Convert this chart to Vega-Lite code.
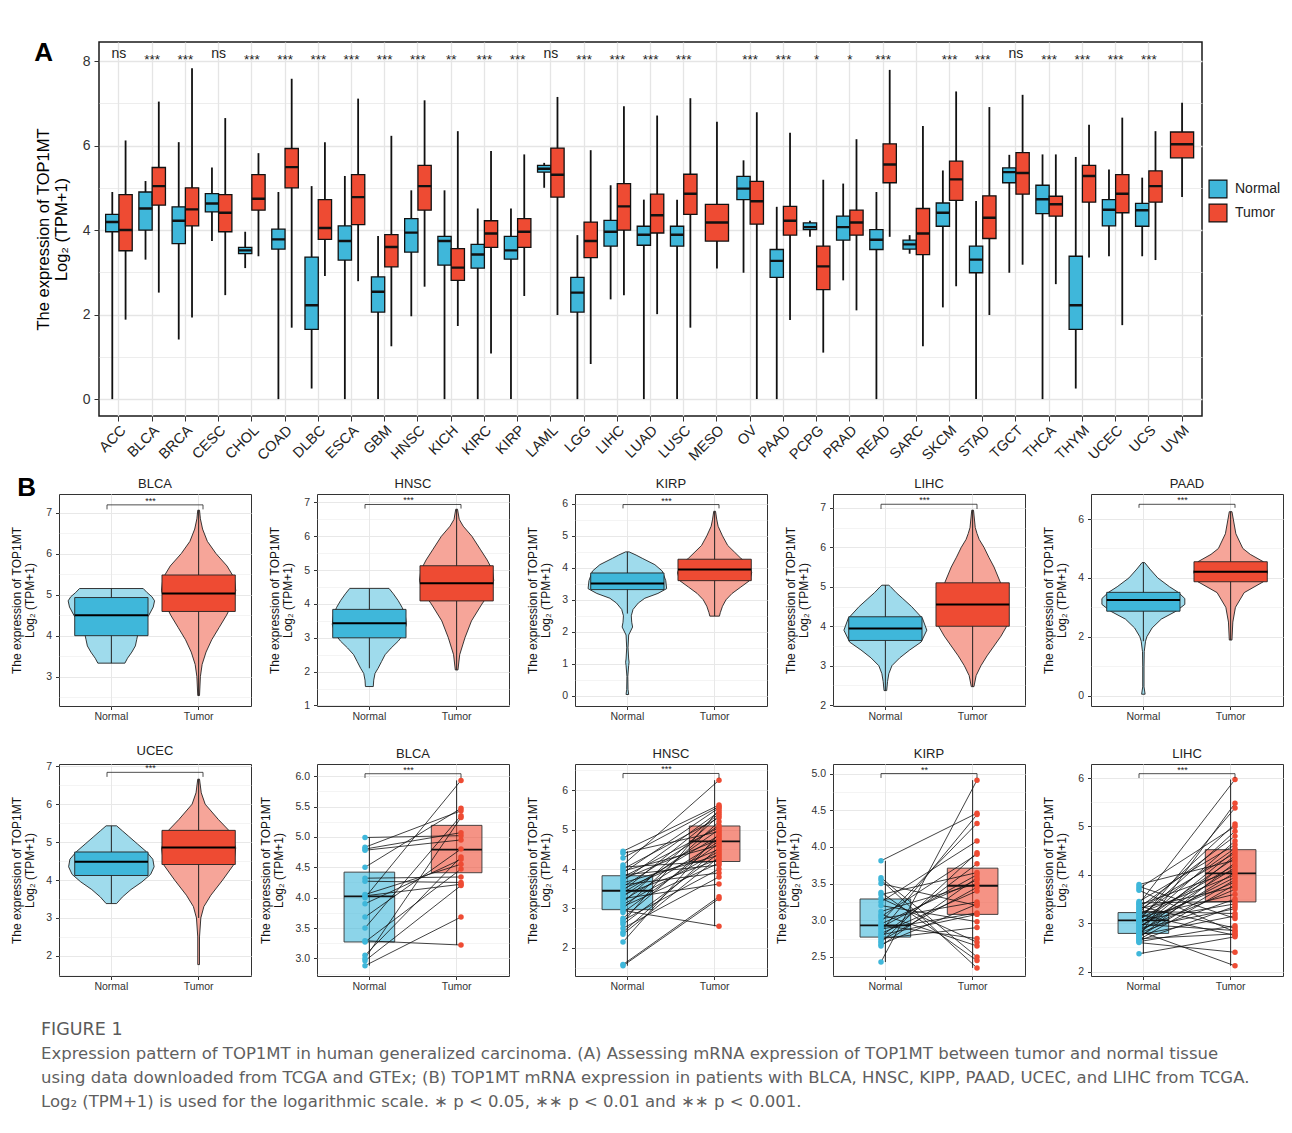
{
"$schema":"https://vega.github.io/schema/vega-lite/v6.json",
"background":"white",
"padding":{"left":10,"top":39,"right":2,"bottom":5},
"autosize":{"type":"pad"},
"config":{
 "font":"Liberation Sans",
 "view":{"stroke":"#333","strokeWidth":1},
 "axis":{"domain":false,"tickColor":"#333","labelColor":"#333","titleColor":"#111","gridColor":"#e8e8e8","titleFontWeight":"normal"},
 "axisY":{"labelFontSize":10.5,"titleFontSize":12,"titleLineHeight":13,"titlePadding":9,"tickSize":3.5,"labelPadding":4},
 "axisX":{"labelFontSize":10.5,"tickSize":3.5,"labelPadding":2},
 "title":{"fontSize":13,"fontWeight":"normal","color":"#222","offset":3}
},
"datasets":{
"A":[
{"c":"ACC","g":"Normal","lo":0,"q1":3.96,"med":4.19,"q3":4.37,"hi":4.9},
{"c":"ACC","g":"Tumor","lo":1.88,"q1":3.51,"med":4.0,"q3":4.84,"hi":6.12},
{"c":"BLCA","g":"Normal","lo":3.3,"q1":4.0,"med":4.51,"q3":4.9,"hi":5.16},
{"c":"BLCA","g":"Tumor","lo":2.52,"q1":4.59,"med":5.04,"q3":5.48,"hi":7.04},
{"c":"BRCA","g":"Normal","lo":1.41,"q1":3.68,"med":4.22,"q3":4.55,"hi":6.08},
{"c":"BRCA","g":"Tumor","lo":1.93,"q1":4.1,"med":4.49,"q3":5.0,"hi":7.83},
{"c":"CESC","g":"Normal","lo":3.74,"q1":4.43,"med":4.63,"q3":4.86,"hi":5.48},
{"c":"CESC","g":"Tumor","lo":2.46,"q1":3.96,"med":4.41,"q3":4.84,"hi":6.65},
{"c":"CHOL","g":"Normal","lo":3.1,"q1":3.44,"med":3.52,"q3":3.59,"hi":3.96},
{"c":"CHOL","g":"Tumor","lo":3.38,"q1":4.47,"med":4.74,"q3":5.31,"hi":5.82},
{"c":"COAD","g":"Normal","lo":0,"q1":3.55,"med":3.78,"q3":4.02,"hi":4.9},
{"c":"COAD","g":"Tumor","lo":1.69,"q1":5.0,"med":5.49,"q3":5.93,"hi":7.58},
{"c":"DLBC","g":"Normal","lo":0.25,"q1":1.65,"med":2.22,"q3":3.36,"hi":5.04},
{"c":"DLBC","g":"Tumor","lo":2.91,"q1":3.78,"med":4.05,"q3":4.72,"hi":6.08},
{"c":"ESCA","g":"Normal","lo":0,"q1":3.29,"med":3.74,"q3":4.1,"hi":5.28},
{"c":"ESCA","g":"Tumor","lo":2.79,"q1":4.13,"med":4.78,"q3":5.31,"hi":7.11},
{"c":"GBM","g":"Normal","lo":0,"q1":2.06,"med":2.54,"q3":2.89,"hi":3.86},
{"c":"GBM","g":"Tumor","lo":1.25,"q1":3.13,"med":3.6,"q3":3.89,"hi":6.23},
{"c":"HNSC","g":"Normal","lo":1.96,"q1":3.48,"med":3.94,"q3":4.27,"hi":4.94},
{"c":"HNSC","g":"Tumor","lo":2.66,"q1":4.47,"med":5.04,"q3":5.53,"hi":7.07},
{"c":"KICH","g":"Normal","lo":0,"q1":3.17,"med":3.74,"q3":3.85,"hi":4.94},
{"c":"KICH","g":"Tumor","lo":1.73,"q1":2.81,"med":3.11,"q3":3.56,"hi":6.34},
{"c":"KIRC","g":"Normal","lo":0,"q1":3.1,"med":3.42,"q3":3.66,"hi":4.51},
{"c":"KIRC","g":"Tumor","lo":1.08,"q1":3.59,"med":3.92,"q3":4.22,"hi":5.87},
{"c":"KIRP","g":"Normal","lo":0,"q1":3.31,"med":3.52,"q3":3.85,"hi":4.51},
{"c":"KIRP","g":"Tumor","lo":2.44,"q1":3.59,"med":3.96,"q3":4.27,"hi":5.79},
{"c":"LAML","g":"Normal","lo":5.0,"q1":5.37,"med":5.45,"q3":5.53,"hi":5.59},
{"c":"LAML","g":"Tumor","lo":1.99,"q1":4.78,"med":5.31,"q3":5.94,"hi":7.15},
{"c":"LGG","g":"Normal","lo":0,"q1":2.06,"med":2.52,"q3":2.88,"hi":3.88},
{"c":"LGG","g":"Tumor","lo":0.83,"q1":3.35,"med":3.74,"q3":4.19,"hi":5.89},
{"c":"LIHC","g":"Normal","lo":2.36,"q1":3.62,"med":3.96,"q3":4.23,"hi":5.06},
{"c":"LIHC","g":"Tumor","lo":2.46,"q1":4.0,"med":4.56,"q3":5.1,"hi":6.93},
{"c":"LUAD","g":"Normal","lo":0,"q1":3.64,"med":3.89,"q3":4.09,"hi":4.72},
{"c":"LUAD","g":"Tumor","lo":2.01,"q1":3.93,"med":4.35,"q3":4.85,"hi":6.71},
{"c":"LUSC","g":"Normal","lo":0,"q1":3.62,"med":3.89,"q3":4.09,"hi":4.72},
{"c":"LUSC","g":"Tumor","lo":1.69,"q1":4.37,"med":4.86,"q3":5.32,"hi":7.12},
{"c":"MESO","g":"Tumor","lo":3.09,"q1":3.74,"med":4.18,"q3":4.61,"hi":6.56},
{"c":"OV","g":"Normal","lo":2.99,"q1":4.72,"med":4.98,"q3":5.27,"hi":5.65},
{"c":"OV","g":"Tumor","lo":0,"q1":4.14,"med":4.68,"q3":5.15,"hi":6.79},
{"c":"PAAD","g":"Normal","lo":0,"q1":2.88,"med":3.27,"q3":3.54,"hi":4.55},
{"c":"PAAD","g":"Tumor","lo":1.87,"q1":3.88,"med":4.22,"q3":4.56,"hi":6.3},
{"c":"PCPG","g":"Normal","lo":3.84,"q1":4.01,"med":4.07,"q3":4.17,"hi":4.22},
{"c":"PCPG","g":"Tumor","lo":1.1,"q1":2.59,"med":3.14,"q3":3.62,"hi":5.19},
{"c":"PRAD","g":"Normal","lo":2.81,"q1":3.76,"med":4.07,"q3":4.33,"hi":5.1},
{"c":"PRAD","g":"Tumor","lo":2.1,"q1":3.88,"med":4.18,"q3":4.47,"hi":6.15},
{"c":"READ","g":"Normal","lo":0,"q1":3.54,"med":3.77,"q3":4.01,"hi":4.9},
{"c":"READ","g":"Tumor","lo":3.84,"q1":5.12,"med":5.55,"q3":6.04,"hi":7.79},
{"c":"SARC","g":"Normal","lo":3.44,"q1":3.55,"med":3.66,"q3":3.76,"hi":3.88},
{"c":"SARC","g":"Tumor","lo":1.25,"q1":3.42,"med":3.92,"q3":4.51,"hi":6.46},
{"c":"SKCM","g":"Normal","lo":2.17,"q1":4.09,"med":4.41,"q3":4.64,"hi":5.41},
{"c":"SKCM","g":"Tumor","lo":2.67,"q1":4.7,"med":5.2,"q3":5.63,"hi":7.28},
{"c":"STAD","g":"Normal","lo":0,"q1":2.99,"med":3.3,"q3":3.62,"hi":4.69},
{"c":"STAD","g":"Tumor","lo":1.99,"q1":3.8,"med":4.29,"q3":4.81,"hi":6.91},
{"c":"TGCT","g":"Normal","lo":2.99,"q1":5.12,"med":5.37,"q3":5.47,"hi":5.78},
{"c":"TGCT","g":"Tumor","lo":3.18,"q1":4.85,"med":5.35,"q3":5.83,"hi":7.2},
{"c":"THCA","g":"Normal","lo":0,"q1":4.39,"med":4.73,"q3":5.06,"hi":5.79},
{"c":"THCA","g":"Tumor","lo":2.72,"q1":4.33,"med":4.61,"q3":4.8,"hi":5.79},
{"c":"THYM","g":"Normal","lo":0.25,"q1":1.65,"med":2.22,"q3":3.38,"hi":5.73},
{"c":"THYM","g":"Tumor","lo":3.35,"q1":4.66,"med":5.28,"q3":5.53,"hi":6.49},
{"c":"UCEC","g":"Normal","lo":3.38,"q1":4.1,"med":4.48,"q3":4.72,"hi":5.43},
{"c":"UCEC","g":"Tumor","lo":1.75,"q1":4.41,"med":4.86,"q3":5.31,"hi":6.66},
{"c":"UCS","g":"Normal","lo":3.38,"q1":4.09,"med":4.47,"q3":4.63,"hi":5.24},
{"c":"UCS","g":"Tumor","lo":3.29,"q1":4.66,"med":5.04,"q3":5.4,"hi":6.34},
{"c":"UVM","g":"Tumor","lo":4.78,"q1":5.71,"med":6.03,"q3":6.32,"hi":7.01}
],
"Asig":[
{"c":"ACC","s":"ns"},{"c":"BLCA","s":"***"},{"c":"BRCA","s":"***"},{"c":"CESC","s":"ns"},{"c":"CHOL","s":"***"},{"c":"COAD","s":"***"},{"c":"DLBC","s":"***"},{"c":"ESCA","s":"***"},{"c":"GBM","s":"***"},{"c":"HNSC","s":"***"},{"c":"KICH","s":"**"},{"c":"KIRC","s":"***"},{"c":"KIRP","s":"***"},{"c":"LAML","s":"ns"},{"c":"LGG","s":"***"},{"c":"LIHC","s":"***"},{"c":"LUAD","s":"***"},{"c":"LUSC","s":"***"},{"c":"OV","s":"***"},{"c":"PAAD","s":"***"},{"c":"PCPG","s":"*"},{"c":"PRAD","s":"*"},{"c":"READ","s":"***"},{"c":"SKCM","s":"***"},{"c":"STAD","s":"***"},{"c":"TGCT","s":"ns"},{"c":"THCA","s":"***"},{"c":"THYM","s":"***"},{"c":"UCEC","s":"***"},{"c":"UCS","s":"***"}
],
"vs":[
{"c":"BLCA","g":"Normal","lo":3.33,"q1":4.0,"med":4.5,"q3":4.93,"hi":5.15},
{"c":"BLCA","g":"Tumor","lo":2.54,"q1":4.59,"med":5.03,"q3":5.48,"hi":7.06},
{"c":"HNSC","g":"Normal","lo":2.1,"q1":3.0,"med":3.43,"q3":3.84,"hi":4.46},
{"c":"HNSC","g":"Tumor","lo":2.05,"q1":4.09,"med":4.61,"q3":5.13,"hi":6.8},
{"c":"KIRP","g":"Normal","lo":2.57,"q1":3.32,"med":3.51,"q3":3.84,"hi":4.5},
{"c":"KIRP","g":"Tumor","lo":2.49,"q1":3.6,"med":3.95,"q3":4.27,"hi":5.77},
{"c":"LIHC","g":"Normal","lo":2.37,"q1":3.64,"med":3.94,"q3":4.24,"hi":5.04},
{"c":"LIHC","g":"Tumor","lo":2.47,"q1":4.0,"med":4.55,"q3":5.1,"hi":6.94},
{"c":"PAAD","g":"Normal","lo":1.85,"q1":2.87,"med":3.25,"q3":3.51,"hi":4.52},
{"c":"PAAD","g":"Tumor","lo":1.89,"q1":3.87,"med":4.21,"q3":4.55,"hi":6.25},
{"c":"UCEC","g":"Normal","lo":3.38,"q1":4.12,"med":4.48,"q3":4.74,"hi":5.43},
{"c":"UCEC","g":"Tumor","lo":3.0,"q1":4.41,"med":4.86,"q3":5.31,"hi":6.66}
],
"vd":[
{"c":"BLCA","g":"Normal","y":3.33,"d":0.31},{"c":"BLCA","g":"Normal","y":3.45,"d":0.37},{"c":"BLCA","g":"Normal","y":3.6,"d":0.47},{"c":"BLCA","g":"Normal","y":3.75,"d":0.55},{"c":"BLCA","g":"Normal","y":3.9,"d":0.58},{"c":"BLCA","g":"Normal","y":4.1,"d":0.62},{"c":"BLCA","g":"Normal","y":4.3,"d":0.72},{"c":"BLCA","g":"Normal","y":4.5,"d":0.86},{"c":"BLCA","g":"Normal","y":4.7,"d":0.96},{"c":"BLCA","g":"Normal","y":4.85,"d":0.99},{"c":"BLCA","g":"Normal","y":4.95,"d":0.93},{"c":"BLCA","g":"Normal","y":5.05,"d":0.82},{"c":"BLCA","g":"Normal","y":5.15,"d":0.73},
{"c":"BLCA","g":"Tumor","y":2.54,"d":0.02},{"c":"BLCA","g":"Tumor","y":3.0,"d":0.04},{"c":"BLCA","g":"Tumor","y":3.3,"d":0.08},{"c":"BLCA","g":"Tumor","y":3.6,"d":0.17},{"c":"BLCA","g":"Tumor","y":3.9,"d":0.3},{"c":"BLCA","g":"Tumor","y":4.2,"d":0.47},{"c":"BLCA","g":"Tumor","y":4.5,"d":0.64},{"c":"BLCA","g":"Tumor","y":4.8,"d":0.78},{"c":"BLCA","g":"Tumor","y":5.1,"d":0.85},{"c":"BLCA","g":"Tumor","y":5.4,"d":0.82},{"c":"BLCA","g":"Tumor","y":5.7,"d":0.65},{"c":"BLCA","g":"Tumor","y":6.0,"d":0.4},{"c":"BLCA","g":"Tumor","y":6.3,"d":0.2},{"c":"BLCA","g":"Tumor","y":6.6,"d":0.09},{"c":"BLCA","g":"Tumor","y":6.85,"d":0.04},{"c":"BLCA","g":"Tumor","y":7.06,"d":0.02},
{"c":"HNSC","g":"Normal","y":1.56,"d":0.09},{"c":"HNSC","g":"Normal","y":1.75,"d":0.1},{"c":"HNSC","g":"Normal","y":1.95,"d":0.13},{"c":"HNSC","g":"Normal","y":2.1,"d":0.2},{"c":"HNSC","g":"Normal","y":2.3,"d":0.28},{"c":"HNSC","g":"Normal","y":2.5,"d":0.36},{"c":"HNSC","g":"Normal","y":2.7,"d":0.5},{"c":"HNSC","g":"Normal","y":2.9,"d":0.66},{"c":"HNSC","g":"Normal","y":3.1,"d":0.78},{"c":"HNSC","g":"Normal","y":3.4,"d":0.85},{"c":"HNSC","g":"Normal","y":3.7,"d":0.82},{"c":"HNSC","g":"Normal","y":3.9,"d":0.75},{"c":"HNSC","g":"Normal","y":4.1,"d":0.66},{"c":"HNSC","g":"Normal","y":4.3,"d":0.55},{"c":"HNSC","g":"Normal","y":4.46,"d":0.45},
{"c":"HNSC","g":"Tumor","y":2.05,"d":0.03},{"c":"HNSC","g":"Tumor","y":2.5,"d":0.07},{"c":"HNSC","g":"Tumor","y":3.0,"d":0.19},{"c":"HNSC","g":"Tumor","y":3.5,"d":0.34},{"c":"HNSC","g":"Tumor","y":4.0,"d":0.58},{"c":"HNSC","g":"Tumor","y":4.4,"d":0.8},{"c":"HNSC","g":"Tumor","y":4.7,"d":0.85},{"c":"HNSC","g":"Tumor","y":5.0,"d":0.82},{"c":"HNSC","g":"Tumor","y":5.3,"d":0.7},{"c":"HNSC","g":"Tumor","y":5.6,"d":0.55},{"c":"HNSC","g":"Tumor","y":6.0,"d":0.35},{"c":"HNSC","g":"Tumor","y":6.3,"d":0.15},{"c":"HNSC","g":"Tumor","y":6.5,"d":0.06},{"c":"HNSC","g":"Tumor","y":6.8,"d":0.02},
{"c":"KIRP","g":"Normal","y":0.04,"d":0.03},{"c":"KIRP","g":"Normal","y":0.2,"d":0.015},{"c":"KIRP","g":"Normal","y":0.6,"d":0.01},{"c":"KIRP","g":"Normal","y":0.95,"d":0.03},{"c":"KIRP","g":"Normal","y":1.05,"d":0.04},{"c":"KIRP","g":"Normal","y":1.15,"d":0.03},{"c":"KIRP","g":"Normal","y":1.5,"d":0.015},{"c":"KIRP","g":"Normal","y":1.9,"d":0.03},{"c":"KIRP","g":"Normal","y":2.15,"d":0.12},{"c":"KIRP","g":"Normal","y":2.3,"d":0.1},{"c":"KIRP","g":"Normal","y":2.5,"d":0.09},{"c":"KIRP","g":"Normal","y":2.7,"d":0.13},{"c":"KIRP","g":"Normal","y":2.9,"d":0.25},{"c":"KIRP","g":"Normal","y":3.05,"d":0.4},{"c":"KIRP","g":"Normal","y":3.2,"d":0.7},{"c":"KIRP","g":"Normal","y":3.35,"d":0.9},{"c":"KIRP","g":"Normal","y":3.6,"d":0.88},{"c":"KIRP","g":"Normal","y":3.9,"d":0.8},{"c":"KIRP","g":"Normal","y":4.1,"d":0.63},{"c":"KIRP","g":"Normal","y":4.3,"d":0.34},{"c":"KIRP","g":"Normal","y":4.4,"d":0.2},{"c":"KIRP","g":"Normal","y":4.5,"d":0.04},
{"c":"KIRP","g":"Tumor","y":2.49,"d":0.11},{"c":"KIRP","g":"Tumor","y":2.6,"d":0.13},{"c":"KIRP","g":"Tumor","y":2.8,"d":0.18},{"c":"KIRP","g":"Tumor","y":3.0,"d":0.26},{"c":"KIRP","g":"Tumor","y":3.2,"d":0.4},{"c":"KIRP","g":"Tumor","y":3.4,"d":0.6},{"c":"KIRP","g":"Tumor","y":3.6,"d":0.8},{"c":"KIRP","g":"Tumor","y":3.85,"d":0.85},{"c":"KIRP","g":"Tumor","y":4.1,"d":0.78},{"c":"KIRP","g":"Tumor","y":4.3,"d":0.6},{"c":"KIRP","g":"Tumor","y":4.5,"d":0.45},{"c":"KIRP","g":"Tumor","y":4.7,"d":0.3},{"c":"KIRP","g":"Tumor","y":5.0,"d":0.18},{"c":"KIRP","g":"Tumor","y":5.3,"d":0.08},{"c":"KIRP","g":"Tumor","y":5.5,"d":0.05},{"c":"KIRP","g":"Tumor","y":5.77,"d":0.02},
{"c":"LIHC","g":"Normal","y":2.37,"d":0.03},{"c":"LIHC","g":"Normal","y":2.6,"d":0.05},{"c":"LIHC","g":"Normal","y":2.8,"d":0.08},{"c":"LIHC","g":"Normal","y":3.0,"d":0.15},{"c":"LIHC","g":"Normal","y":3.2,"d":0.33},{"c":"LIHC","g":"Normal","y":3.4,"d":0.56},{"c":"LIHC","g":"Normal","y":3.6,"d":0.82},{"c":"LIHC","g":"Normal","y":3.9,"d":0.95},{"c":"LIHC","g":"Normal","y":4.2,"d":0.85},{"c":"LIHC","g":"Normal","y":4.5,"d":0.6},{"c":"LIHC","g":"Normal","y":4.7,"d":0.4},{"c":"LIHC","g":"Normal","y":4.85,"d":0.25},{"c":"LIHC","g":"Normal","y":5.0,"d":0.12},{"c":"LIHC","g":"Normal","y":5.04,"d":0.08},
{"c":"LIHC","g":"Tumor","y":2.47,"d":0.03},{"c":"LIHC","g":"Tumor","y":2.75,"d":0.08},{"c":"LIHC","g":"Tumor","y":3.0,"d":0.19},{"c":"LIHC","g":"Tumor","y":3.25,"d":0.33},{"c":"LIHC","g":"Tumor","y":3.5,"d":0.49},{"c":"LIHC","g":"Tumor","y":3.75,"d":0.65},{"c":"LIHC","g":"Tumor","y":4.0,"d":0.78},{"c":"LIHC","g":"Tumor","y":4.4,"d":0.8},{"c":"LIHC","g":"Tumor","y":4.8,"d":0.72},{"c":"LIHC","g":"Tumor","y":5.1,"d":0.64},{"c":"LIHC","g":"Tumor","y":5.5,"d":0.49},{"c":"LIHC","g":"Tumor","y":5.75,"d":0.37},{"c":"LIHC","g":"Tumor","y":6.0,"d":0.26},{"c":"LIHC","g":"Tumor","y":6.2,"d":0.15},{"c":"LIHC","g":"Tumor","y":6.35,"d":0.1},{"c":"LIHC","g":"Tumor","y":6.5,"d":0.06},{"c":"LIHC","g":"Tumor","y":6.94,"d":0.02},
{"c":"PAAD","g":"Normal","y":0.05,"d":0.04},{"c":"PAAD","g":"Normal","y":0.3,"d":0.015},{"c":"PAAD","g":"Normal","y":1.0,"d":0.015},{"c":"PAAD","g":"Normal","y":1.5,"d":0.02},{"c":"PAAD","g":"Normal","y":1.85,"d":0.05},{"c":"PAAD","g":"Normal","y":2.0,"d":0.08},{"c":"PAAD","g":"Normal","y":2.3,"d":0.2},{"c":"PAAD","g":"Normal","y":2.6,"d":0.41},{"c":"PAAD","g":"Normal","y":2.87,"d":0.75},{"c":"PAAD","g":"Normal","y":3.1,"d":0.95},{"c":"PAAD","g":"Normal","y":3.3,"d":0.95},{"c":"PAAD","g":"Normal","y":3.51,"d":0.8},{"c":"PAAD","g":"Normal","y":3.7,"d":0.6},{"c":"PAAD","g":"Normal","y":4.0,"d":0.33},{"c":"PAAD","g":"Normal","y":4.3,"d":0.15},{"c":"PAAD","g":"Normal","y":4.52,"d":0.03},
{"c":"PAAD","g":"Tumor","y":1.89,"d":0.03},{"c":"PAAD","g":"Tumor","y":2.5,"d":0.05},{"c":"PAAD","g":"Tumor","y":3.0,"d":0.11},{"c":"PAAD","g":"Tumor","y":3.5,"d":0.31},{"c":"PAAD","g":"Tumor","y":3.87,"d":0.75},{"c":"PAAD","g":"Tumor","y":4.2,"d":0.85},{"c":"PAAD","g":"Tumor","y":4.55,"d":0.75},{"c":"PAAD","g":"Tumor","y":4.8,"d":0.45},{"c":"PAAD","g":"Tumor","y":5.0,"d":0.28},{"c":"PAAD","g":"Tumor","y":5.5,"d":0.12},{"c":"PAAD","g":"Tumor","y":6.0,"d":0.06},{"c":"PAAD","g":"Tumor","y":6.25,"d":0.03},
{"c":"UCEC","g":"Normal","y":3.38,"d":0.12},{"c":"UCEC","g":"Normal","y":3.55,"d":0.25},{"c":"UCEC","g":"Normal","y":3.75,"d":0.45},{"c":"UCEC","g":"Normal","y":3.95,"d":0.7},{"c":"UCEC","g":"Normal","y":4.15,"d":0.9},{"c":"UCEC","g":"Normal","y":4.35,"d":0.98},{"c":"UCEC","g":"Normal","y":4.55,"d":0.95},{"c":"UCEC","g":"Normal","y":4.75,"d":0.8},{"c":"UCEC","g":"Normal","y":4.95,"d":0.6},{"c":"UCEC","g":"Normal","y":5.15,"d":0.4},{"c":"UCEC","g":"Normal","y":5.3,"d":0.25},{"c":"UCEC","g":"Normal","y":5.43,"d":0.12},
{"c":"UCEC","g":"Tumor","y":1.77,"d":0.02},{"c":"UCEC","g":"Tumor","y":2.5,"d":0.02},{"c":"UCEC","g":"Tumor","y":3.0,"d":0.05},{"c":"UCEC","g":"Tumor","y":3.3,"d":0.12},{"c":"UCEC","g":"Tumor","y":3.6,"d":0.28},{"c":"UCEC","g":"Tumor","y":4.0,"d":0.55},{"c":"UCEC","g":"Tumor","y":4.4,"d":0.8},{"c":"UCEC","g":"Tumor","y":4.85,"d":0.85},{"c":"UCEC","g":"Tumor","y":5.3,"d":0.7},{"c":"UCEC","g":"Tumor","y":5.6,"d":0.45},{"c":"UCEC","g":"Tumor","y":6.0,"d":0.15},{"c":"UCEC","g":"Tumor","y":6.3,"d":0.06},{"c":"UCEC","g":"Tumor","y":6.66,"d":0.02}
],
"ps":[
{"c":"BLCA","g":"Normal","lo":2.88,"q1":3.27,"med":4.02,"q3":4.42,"hi":4.99},
{"c":"BLCA","g":"Tumor","lo":3.22,"q1":4.41,"med":4.79,"q3":5.19,"hi":5.93},
{"c":"HNSC","g":"Normal","lo":1.55,"q1":2.97,"med":3.45,"q3":3.83,"hi":4.45},
{"c":"HNSC","g":"Tumor","lo":2.55,"q1":4.19,"med":4.7,"q3":5.09,"hi":6.25},
{"c":"KIRP","g":"Normal","lo":2.43,"q1":2.77,"med":2.93,"q3":3.29,"hi":3.81},
{"c":"KIRP","g":"Tumor","lo":2.35,"q1":3.08,"med":3.47,"q3":3.71,"hi":4.91},
{"c":"LIHC","g":"Normal","lo":2.37,"q1":2.79,"med":3.06,"q3":3.22,"hi":3.8},
{"c":"LIHC","g":"Tumor","lo":2.12,"q1":3.44,"med":4.03,"q3":4.52,"hi":5.97}
],
"pp":[
{"c":"BLCA","id":1,"Normal":4.99,"Tumor":5.02},{"c":"BLCA","id":2,"Normal":4.83,"Tumor":5.43},{"c":"BLCA","id":3,"Normal":4.8,"Tumor":5.07},{"c":"BLCA","id":4,"Normal":4.78,"Tumor":4.95},{"c":"BLCA","id":5,"Normal":4.5,"Tumor":5.47},{"c":"BLCA","id":6,"Normal":4.32,"Tumor":4.34},{"c":"BLCA","id":7,"Normal":4.27,"Tumor":4.25},{"c":"BLCA","id":8,"Normal":4.05,"Tumor":4.55},{"c":"BLCA","id":9,"Normal":4.03,"Tumor":4.22},{"c":"BLCA","id":10,"Normal":4.0,"Tumor":5.93},{"c":"BLCA","id":11,"Normal":3.9,"Tumor":4.63},{"c":"BLCA","id":12,"Normal":3.68,"Tumor":4.8},{"c":"BLCA","id":13,"Normal":3.5,"Tumor":5.35},{"c":"BLCA","id":14,"Normal":3.29,"Tumor":3.22},{"c":"BLCA","id":15,"Normal":3.27,"Tumor":4.47},{"c":"BLCA","id":16,"Normal":3.05,"Tumor":4.67},{"c":"BLCA","id":17,"Normal":3.0,"Tumor":5.32},{"c":"BLCA","id":18,"Normal":2.96,"Tumor":4.2},{"c":"BLCA","id":19,"Normal":2.88,"Tumor":3.68},
{"c":"HNSC","id":1,"Normal":4.45,"Tumor":5.62},{"c":"HNSC","id":2,"Normal":4.4,"Tumor":4.95},{"c":"HNSC","id":3,"Normal":4.28,"Tumor":5.58},{"c":"HNSC","id":4,"Normal":4.1,"Tumor":6.25},{"c":"HNSC","id":5,"Normal":4.05,"Tumor":4.2},{"c":"HNSC","id":6,"Normal":4.0,"Tumor":5.3},{"c":"HNSC","id":7,"Normal":3.95,"Tumor":4.6},{"c":"HNSC","id":8,"Normal":3.9,"Tumor":5.55},{"c":"HNSC","id":9,"Normal":3.85,"Tumor":4.1},{"c":"HNSC","id":10,"Normal":3.8,"Tumor":5.05},{"c":"HNSC","id":11,"Normal":3.75,"Tumor":4.75},{"c":"HNSC","id":12,"Normal":3.7,"Tumor":5.45},{"c":"HNSC","id":13,"Normal":3.65,"Tumor":4.35},{"c":"HNSC","id":14,"Normal":3.6,"Tumor":3.9},{"c":"HNSC","id":15,"Normal":3.55,"Tumor":5.1},{"c":"HNSC","id":16,"Normal":3.5,"Tumor":4.5},{"c":"HNSC","id":17,"Normal":3.45,"Tumor":5.4},{"c":"HNSC","id":18,"Normal":3.4,"Tumor":4.85},{"c":"HNSC","id":19,"Normal":3.35,"Tumor":4.25},{"c":"HNSC","id":20,"Normal":3.3,"Tumor":5.0},{"c":"HNSC","id":21,"Normal":3.25,"Tumor":3.62},{"c":"HNSC","id":22,"Normal":3.2,"Tumor":4.7},{"c":"HNSC","id":23,"Normal":3.15,"Tumor":5.35},{"c":"HNSC","id":24,"Normal":3.1,"Tumor":4.45},{"c":"HNSC","id":25,"Normal":3.05,"Tumor":4.15},{"c":"HNSC","id":26,"Normal":3.0,"Tumor":5.2},{"c":"HNSC","id":27,"Normal":2.95,"Tumor":2.55},{"c":"HNSC","id":28,"Normal":2.9,"Tumor":4.65},{"c":"HNSC","id":29,"Normal":2.75,"Tumor":4.8},{"c":"HNSC","id":30,"Normal":2.7,"Tumor":4.0},{"c":"HNSC","id":31,"Normal":2.65,"Tumor":5.5},{"c":"HNSC","id":32,"Normal":2.6,"Tumor":4.4},{"c":"HNSC","id":33,"Normal":2.5,"Tumor":3.8},{"c":"HNSC","id":34,"Normal":2.4,"Tumor":4.55},{"c":"HNSC","id":35,"Normal":2.35,"Tumor":4.3},{"c":"HNSC","id":36,"Normal":2.15,"Tumor":4.9},{"c":"HNSC","id":37,"Normal":1.58,"Tumor":3.3},{"c":"HNSC","id":38,"Normal":1.55,"Tumor":3.25},
{"c":"KIRP","id":1,"Normal":3.81,"Tumor":4.46},{"c":"KIRP","id":2,"Normal":3.58,"Tumor":2.5},{"c":"KIRP","id":3,"Normal":3.55,"Tumor":2.35},{"c":"KIRP","id":4,"Normal":3.5,"Tumor":3.2},{"c":"KIRP","id":5,"Normal":3.38,"Tumor":2.45},{"c":"KIRP","id":6,"Normal":3.35,"Tumor":3.65},{"c":"KIRP","id":7,"Normal":3.3,"Tumor":2.7},{"c":"KIRP","id":8,"Normal":3.25,"Tumor":4.08},{"c":"KIRP","id":9,"Normal":3.2,"Tumor":2.98},{"c":"KIRP","id":10,"Normal":3.12,"Tumor":3.5},{"c":"KIRP","id":11,"Normal":3.08,"Tumor":2.65},{"c":"KIRP","id":12,"Normal":3.05,"Tumor":3.9},{"c":"KIRP","id":13,"Normal":3.02,"Tumor":3.25},{"c":"KIRP","id":14,"Normal":2.98,"Tumor":4.32},{"c":"KIRP","id":15,"Normal":2.95,"Tumor":3.55},{"c":"KIRP","id":16,"Normal":2.93,"Tumor":2.75},{"c":"KIRP","id":17,"Normal":2.9,"Tumor":3.62},{"c":"KIRP","id":18,"Normal":2.88,"Tumor":3.1},{"c":"KIRP","id":19,"Normal":2.85,"Tumor":4.44},{"c":"KIRP","id":20,"Normal":2.82,"Tumor":3.4},{"c":"KIRP","id":21,"Normal":2.8,"Tumor":3.08},{"c":"KIRP","id":22,"Normal":2.78,"Tumor":3.77},{"c":"KIRP","id":23,"Normal":2.75,"Tumor":2.9},{"c":"KIRP","id":24,"Normal":2.72,"Tumor":3.45},{"c":"KIRP","id":25,"Normal":2.7,"Tumor":3.92},{"c":"KIRP","id":26,"Normal":2.67,"Tumor":3.22},{"c":"KIRP","id":27,"Normal":2.65,"Tumor":3.58},{"c":"KIRP","id":28,"Normal":2.43,"Tumor":4.91},
{"c":"LIHC","id":1,"Normal":3.8,"Tumor":4.3},{"c":"LIHC","id":2,"Normal":3.76,"Tumor":3.1},{"c":"LIHC","id":3,"Normal":3.72,"Tumor":5.0},{"c":"LIHC","id":4,"Normal":3.68,"Tumor":2.82},{"c":"LIHC","id":5,"Normal":3.45,"Tumor":4.62},{"c":"LIHC","id":6,"Normal":3.42,"Tumor":3.45},{"c":"LIHC","id":7,"Normal":3.4,"Tumor":5.97},{"c":"LIHC","id":8,"Normal":3.38,"Tumor":4.1},{"c":"LIHC","id":9,"Normal":3.35,"Tumor":2.9},{"c":"LIHC","id":10,"Normal":3.32,"Tumor":4.8},{"c":"LIHC","id":11,"Normal":3.3,"Tumor":3.75},{"c":"LIHC","id":12,"Normal":3.28,"Tumor":4.45},{"c":"LIHC","id":13,"Normal":3.25,"Tumor":3.2},{"c":"LIHC","id":14,"Normal":3.22,"Tumor":5.05},{"c":"LIHC","id":15,"Normal":3.2,"Tumor":4.0},{"c":"LIHC","id":16,"Normal":3.18,"Tumor":2.75},{"c":"LIHC","id":17,"Normal":3.15,"Tumor":4.55},{"c":"LIHC","id":18,"Normal":3.12,"Tumor":3.6},{"c":"LIHC","id":19,"Normal":3.1,"Tumor":4.9},{"c":"LIHC","id":20,"Normal":3.08,"Tumor":4.2},{"c":"LIHC","id":21,"Normal":3.06,"Tumor":3.4},{"c":"LIHC","id":22,"Normal":3.04,"Tumor":5.38},{"c":"LIHC","id":23,"Normal":3.02,"Tumor":3.85},{"c":"LIHC","id":24,"Normal":3.0,"Tumor":4.35},{"c":"LIHC","id":25,"Normal":2.98,"Tumor":2.85},{"c":"LIHC","id":26,"Normal":2.96,"Tumor":4.7},{"c":"LIHC","id":27,"Normal":2.94,"Tumor":3.95},{"c":"LIHC","id":28,"Normal":2.92,"Tumor":4.15},{"c":"LIHC","id":29,"Normal":2.9,"Tumor":3.3},{"c":"LIHC","id":30,"Normal":2.88,"Tumor":4.5},{"c":"LIHC","id":31,"Normal":2.86,"Tumor":3.7},{"c":"LIHC","id":32,"Normal":2.84,"Tumor":2.12},{"c":"LIHC","id":33,"Normal":2.82,"Tumor":4.05},{"c":"LIHC","id":34,"Normal":2.8,"Tumor":3.5},{"c":"LIHC","id":35,"Normal":2.78,"Tumor":4.4},{"c":"LIHC","id":36,"Normal":2.76,"Tumor":3.15},{"c":"LIHC","id":37,"Normal":2.74,"Tumor":5.48},{"c":"LIHC","id":38,"Normal":2.72,"Tumor":3.9},{"c":"LIHC","id":39,"Normal":2.7,"Tumor":4.25},{"c":"LIHC","id":40,"Normal":2.68,"Tumor":2.78},{"c":"LIHC","id":41,"Normal":2.66,"Tumor":3.8},{"c":"LIHC","id":42,"Normal":2.64,"Tumor":3.35},{"c":"LIHC","id":43,"Normal":2.62,"Tumor":2.95},{"c":"LIHC","id":44,"Normal":2.6,"Tumor":2.4},{"c":"LIHC","id":45,"Normal":2.37,"Tumor":2.72}
],
"br":[
{"k":"vBLCA","g":"Normal","o":1,"y":7.08},{"k":"vBLCA","g":"Normal","o":2,"y":7.19},{"k":"vBLCA","g":"Tumor","o":3,"y":7.19},{"k":"vBLCA","g":"Tumor","o":4,"y":7.08},
{"k":"vHNSC","g":"Normal","o":1,"y":6.82},{"k":"vHNSC","g":"Normal","o":2,"y":6.94},{"k":"vHNSC","g":"Tumor","o":3,"y":6.94},{"k":"vHNSC","g":"Tumor","o":4,"y":6.82},
{"k":"vKIRP","g":"Normal","o":1,"y":5.86},{"k":"vKIRP","g":"Normal","o":2,"y":5.98},{"k":"vKIRP","g":"Tumor","o":3,"y":5.98},{"k":"vKIRP","g":"Tumor","o":4,"y":5.86},
{"k":"vLIHC","g":"Normal","o":1,"y":6.97},{"k":"vLIHC","g":"Normal","o":2,"y":7.09},{"k":"vLIHC","g":"Tumor","o":3,"y":7.09},{"k":"vLIHC","g":"Tumor","o":4,"y":6.97},
{"k":"vPAAD","g":"Normal","o":1,"y":6.38},{"k":"vPAAD","g":"Normal","o":2,"y":6.5},{"k":"vPAAD","g":"Tumor","o":3,"y":6.5},{"k":"vPAAD","g":"Tumor","o":4,"y":6.38},
{"k":"vUCEC","g":"Normal","o":1,"y":6.72},{"k":"vUCEC","g":"Normal","o":2,"y":6.84},{"k":"vUCEC","g":"Tumor","o":3,"y":6.84},{"k":"vUCEC","g":"Tumor","o":4,"y":6.72},
{"k":"pBLCA","g":"Normal","o":1,"y":5.97},{"k":"pBLCA","g":"Normal","o":2,"y":6.04},{"k":"pBLCA","g":"Tumor","o":3,"y":6.04},{"k":"pBLCA","g":"Tumor","o":4,"y":5.97},
{"k":"pHNSC","g":"Normal","o":1,"y":6.3},{"k":"pHNSC","g":"Normal","o":2,"y":6.42},{"k":"pHNSC","g":"Tumor","o":3,"y":6.42},{"k":"pHNSC","g":"Tumor","o":4,"y":6.3},
{"k":"pKIRP","g":"Normal","o":1,"y":4.94},{"k":"pKIRP","g":"Normal","o":2,"y":5.0},{"k":"pKIRP","g":"Tumor","o":3,"y":5.0},{"k":"pKIRP","g":"Tumor","o":4,"y":4.94},
{"k":"pLIHC","g":"Normal","o":1,"y":6.0},{"k":"pLIHC","g":"Normal","o":2,"y":6.09},{"k":"pLIHC","g":"Tumor","o":3,"y":6.09},{"k":"pLIHC","g":"Tumor","o":4,"y":6.0}
],
"bs":[
{"k":"vBLCA","s":"***","y":7.19},{"k":"vHNSC","s":"***","y":6.94},{"k":"vKIRP","s":"***","y":5.98},{"k":"vLIHC","s":"***","y":7.09},{"k":"vPAAD","s":"***","y":6.5},{"k":"vUCEC","s":"***","y":6.84},{"k":"pBLCA","s":"***","y":6.04},{"k":"pHNSC","s":"***","y":6.42},{"k":"pKIRP","s":"**","y":5.0},{"k":"pLIHC","s":"***","y":6.09}
]
},
"spacing":10,
"resolve":{"scale":{"color":"independent"},"legend":{"color":"independent"}},
"vconcat":[
{"hconcat":[
 {"width":1,"height":1,"view":{"stroke":null,"fill":"white"},"data":{"values":[{"k":0}]},"mark":{"type":"point","opacity":0,"size":1},"encoding":{}},
 {"width":1103,"height":374,
  "title":{"text":"A","anchor":"start","frame":"bounds","fontSize":26,"fontWeight":"bold","color":"#000","offset":-24,"dx":-1},
  "view":{"stroke":"#1a1a1a","strokeWidth":1.5},
  "data":{"name":"A"},
  "encoding":{"x":{"field":"c","type":"nominal","title":null,"scale":{"domain":["ACC","BLCA","BRCA","CESC","CHOL","COAD","DLBC","ESCA","GBM","HNSC","KICH","KIRC","KIRP","LAML","LGG","LIHC","LUAD","LUSC","MESO","OV","PAAD","PCPG","PRAD","READ","SARC","SKCM","STAD","TGCT","THCA","THYM","UCEC","UCS","UVM"],"paddingInner":0.2,"paddingOuter":0.2},
   "axis":{"labelAngle":-45,"labelAlign":"right","labelBaseline":"top","labelFontSize":14.5,"labelColor":"#222","tickSize":5,"labelPadding":2,"grid":true,"bandPosition":0.5,"gridWidth":1.3,"gridColor":"#e5e5e5"}}},
  "layer":[
   {"transform":[{"filter":"datum.c !== 'MESO' && datum.c !== 'UVM'"}],
    "mark":{"type":"rule","strokeWidth":1.8,"color":"#111"},
    "encoding":{"xOffset":{"field":"g","type":"nominal","scale":{"domain":["Normal","Tumor"],"paddingInner":0,"paddingOuter":0}},
     "y":{"field":"lo","type":"quantitative","scale":{"domain":[-0.4,8.45],"nice":false,"zero":false},
      "axis":{"values":[0,1,2,3,4,5,6,7,8],"tickCount":20,"format":"d","labelOverlap":{"expr":"false"},"labelExpr":"datum.value % 2 ? '' : datum.label","tickOpacity":{"condition":{"test":"datum.value % 2","value":0},"value":1},"gridWidth":{"condition":{"test":"datum.value % 2","value":0.7},"value":1.3},"gridColor":"#e5e5e5","labelFontSize":14,"labelColor":"#333","tickSize":5,"labelPadding":4,"titlePadding":13,"titleFontSize":16.5,"titleLineHeight":18,"titleColor":"#000","title":["The expression of TOP1MT","Log₂ (TPM+1)"]}},
     "y2":{"field":"hi"}}},
   {"transform":[{"filter":"datum.c !== 'MESO' && datum.c !== 'UVM'"}],
    "mark":{"type":"bar","stroke":"#111","strokeWidth":1.3},
    "encoding":{"xOffset":{"field":"g","type":"nominal","scale":{"domain":["Normal","Tumor"],"paddingInner":0,"paddingOuter":0}},
     "y":{"field":"q1","type":"quantitative","scale":{"domain":[-0.4,8.45],"nice":false,"zero":false}},"y2":{"field":"q3"},
     "color":{"field":"g","type":"nominal","title":null,"scale":{"domain":["Normal","Tumor"],"range":["#3FB7DA","#EE4B33"]},
      "legend":{"orient":"none","legendX":1109,"legendY":137,"symbolType":"square","symbolSize":320,"symbolStrokeColor":"#222","symbolStrokeWidth":1.2,"symbolOpacity":1,"labelFontSize":14,"labelColor":"#222","rowPadding":0,"labelOffset":7}}}},
   {"transform":[{"filter":"datum.c !== 'MESO' && datum.c !== 'UVM'"}],
    "mark":{"type":"bar","fillOpacity":0,"stroke":"#111","strokeWidth":2.4},
    "encoding":{"xOffset":{"field":"g","type":"nominal","scale":{"domain":["Normal","Tumor"],"paddingInner":0,"paddingOuter":0}},
     "y":{"field":"med","type":"quantitative","scale":{"domain":[-0.4,8.45],"nice":false,"zero":false}},"y2":{"field":"med"}}},
   {"transform":[{"filter":"datum.c === 'MESO' || datum.c === 'UVM'"}],
    "mark":{"type":"rule","strokeWidth":1.8,"color":"#111"},
    "encoding":{"y":{"field":"lo","type":"quantitative","scale":{"domain":[-0.4,8.45],"nice":false,"zero":false}},"y2":{"field":"hi"}}},
   {"transform":[{"filter":"datum.c === 'MESO' || datum.c === 'UVM'"}],
    "mark":{"type":"bar","width":{"band":0.87},"stroke":"#111","strokeWidth":1.3},
    "encoding":{"y":{"field":"q1","type":"quantitative","scale":{"domain":[-0.4,8.45],"nice":false,"zero":false}},"y2":{"field":"q3"},
     "color":{"field":"g","type":"nominal","title":null,"scale":{"domain":["Normal","Tumor"],"range":["#3FB7DA","#EE4B33"]}}}},
   {"transform":[{"filter":"datum.c === 'MESO' || datum.c === 'UVM'"}],
    "mark":{"type":"bar","width":{"band":0.87},"fillOpacity":0,"stroke":"#111","strokeWidth":2.4},
    "encoding":{"y":{"field":"med","type":"quantitative","scale":{"domain":[-0.4,8.45],"nice":false,"zero":false}},"y2":{"field":"med"}}},
   {"data":{"name":"Asig"},"transform":[{"filter":"datum.s === 'ns'"}],
    "mark":{"type":"text","fontSize":14,"baseline":"alphabetic","color":"#222"},
    "encoding":{"y":{"datum":8.07,"type":"quantitative","scale":{"domain":[-0.4,8.45],"nice":false,"zero":false}},"text":{"field":"s"}}},
   {"data":{"name":"Asig"},"transform":[{"filter":"datum.s !== 'ns'"}],
    "mark":{"type":"text","fontSize":13.5,"baseline":"alphabetic","color":"#222"},
    "encoding":{"y":{"datum":7.92,"type":"quantitative","scale":{"domain":[-0.4,8.45],"nice":false,"zero":false}},"text":{"field":"s"}}}
  ]}
 ],"bounds":"flush","spacing":39,"resolve":{"scale":{"color":"independent"},"legend":{"color":"independent"}}},

{"hconcat":[
 {"width":192,"height":212,"title":{"text":"BLCA"},"resolve":{"scale":{"x":"independent"},"axis":{"y":"independent"}},"layer":[
  {"data":{"name":"vd"},"transform":[{"filter":"datum.c==='BLCA' && datum.g==='Normal'"}],"mark":{"type":"area","orient":"horizontal","fill":"#9FDBEC","stroke":"#222","strokeWidth":0.9},
   "encoding":{"y":{"field":"y","type":"quantitative","scale":{"domain":[2.285,7.455],"nice":false,"zero":false},"axis":{"orient":"left","values":[3,4,5,6,7],"tickCount":20,"format":"d","labelOverlap":{"expr":"false"},"gridWidth":1,"title":["The expression of TOP1MT","Log₂ (TPM+1)"]}},
    "x":{"field":"d","type":"quantitative","stack":"center","impute":null,"scale":{"domain":[-0.105,2.095],"nice":false,"zero":false},"axis":null}}},
  {"data":{"name":"vd"},"transform":[{"filter":"datum.c==='BLCA' && datum.g==='Tumor'"}],"mark":{"type":"area","orient":"horizontal","fill":"#F6A599","stroke":"#222","strokeWidth":0.9},
   "encoding":{"y":{"field":"y","type":"quantitative","scale":{"domain":[2.285,7.455],"nice":false,"zero":false},"axis":{"orient":"left","values":[2.5,3.5,4.5,5.5,6.5],"tickCount":20,"labels":false,"ticks":false,"domain":false,"grid":true,"gridWidth":0.5,"title":null}},
    "x":{"field":"d","type":"quantitative","stack":"center","impute":null,"scale":{"domain":[-1.175,1.025],"nice":false,"zero":false},"axis":null}}},
  {"data":{"name":"vs"},"transform":[{"filter":"datum.c==='BLCA'"}],
   "encoding":{"x":{"field":"g","type":"nominal","scale":{"domain":["Normal","Tumor"],"paddingInner":0,"paddingOuter":0.1},"axis":{"labelAngle":0,"bandPosition":0.5,"grid":true,"title":" ","titleFontSize":12,"titlePadding":0}}},
   "layer":[
    {"mark":{"type":"rule","strokeWidth":1,"color":"#222"},"encoding":{"y":{"field":"lo","type":"quantitative","scale":{"domain":[2.285,7.455],"nice":false,"zero":false},"axis":null},"y2":{"field":"hi"}}},
    {"mark":{"type":"bar","width":{"band":0.84},"stroke":"#222","strokeWidth":0.9},"encoding":{"y":{"field":"q1","type":"quantitative","scale":{"domain":[2.285,7.455],"nice":false,"zero":false},"axis":null},"y2":{"field":"q3"},"color":{"field":"g","type":"nominal","scale":{"domain":["Normal","Tumor"],"range":["#3FB7DA","#EE4B33"]},"legend":null}}},
    {"mark":{"type":"bar","width":{"band":0.84},"fillOpacity":0,"stroke":"#000","strokeWidth":2},"encoding":{"y":{"field":"med","type":"quantitative","scale":{"domain":[2.285,7.455],"nice":false,"zero":false},"axis":null},"y2":{"field":"med"}}}
   ]},
  {"data":{"name":"br"},"transform":[{"filter":"datum.k==='vBLCA'"}],"mark":{"type":"line","color":"#222","strokeWidth":0.8},
   "encoding":{"x":{"field":"g","type":"nominal","scale":{"domain":["Normal","Tumor"],"paddingInner":0,"paddingOuter":0.1},"axis":null},"y":{"field":"y","type":"quantitative","scale":{"domain":[2.285,7.455],"nice":false,"zero":false},"axis":null},"order":{"field":"o"}}},
  {"data":{"name":"bs"},"transform":[{"filter":"datum.k==='vBLCA'"}],"mark":{"type":"text","dx":43.6,"dy":-1,"baseline":"alphabetic","fontSize":9,"color":"#222"},
   "encoding":{"x":{"datum":"Normal","type":"nominal","scale":{"domain":["Normal","Tumor"],"paddingInner":0,"paddingOuter":0.1},"axis":null},"y":{"field":"y","type":"quantitative","scale":{"domain":[2.285,7.455],"nice":false,"zero":false},"axis":null},"text":{"field":"s"}}}
 ]},
 {"width":192,"height":212,"title":{"text":"HNSC"},"resolve":{"scale":{"x":"independent"},"axis":{"y":"independent"}},"layer":[
  {"data":{"name":"vd"},"transform":[{"filter":"datum.c==='HNSC' && datum.g==='Normal'"}],"mark":{"type":"area","orient":"horizontal","fill":"#9FDBEC","stroke":"#222","strokeWidth":0.9},
   "encoding":{"y":{"field":"y","type":"quantitative","scale":{"domain":[0.985,7.25],"nice":false,"zero":false},"axis":{"orient":"left","values":[1,2,3,4,5,6,7],"tickCount":20,"format":"d","labelOverlap":{"expr":"false"},"gridWidth":1,"title":["The expression of TOP1MT","Log₂ (TPM+1)"]}},
    "x":{"field":"d","type":"quantitative","stack":"center","impute":null,"scale":{"domain":[-0.175,2.025],"nice":false,"zero":false},"axis":null}}},
  {"data":{"name":"vd"},"transform":[{"filter":"datum.c==='HNSC' && datum.g==='Tumor'"}],"mark":{"type":"area","orient":"horizontal","fill":"#F6A599","stroke":"#222","strokeWidth":0.9},
   "encoding":{"y":{"field":"y","type":"quantitative","scale":{"domain":[0.985,7.25],"nice":false,"zero":false},"axis":{"orient":"left","values":[1.5,2.5,3.5,4.5,5.5,6.5],"tickCount":20,"labels":false,"ticks":false,"domain":false,"grid":true,"gridWidth":0.5,"title":null}},
    "x":{"field":"d","type":"quantitative","stack":"center","impute":null,"scale":{"domain":[-1.175,1.025],"nice":false,"zero":false},"axis":null}}},
  {"data":{"name":"vs"},"transform":[{"filter":"datum.c==='HNSC'"}],
   "encoding":{"x":{"field":"g","type":"nominal","scale":{"domain":["Normal","Tumor"],"paddingInner":0,"paddingOuter":0.1},"axis":{"labelAngle":0,"bandPosition":0.5,"grid":true,"title":" ","titleFontSize":12,"titlePadding":0}}},
   "layer":[
    {"mark":{"type":"rule","strokeWidth":1,"color":"#222"},"encoding":{"y":{"field":"lo","type":"quantitative","scale":{"domain":[0.985,7.25],"nice":false,"zero":false},"axis":null},"y2":{"field":"hi"}}},
    {"mark":{"type":"bar","width":{"band":0.84},"stroke":"#222","strokeWidth":0.9},"encoding":{"y":{"field":"q1","type":"quantitative","scale":{"domain":[0.985,7.25],"nice":false,"zero":false},"axis":null},"y2":{"field":"q3"},"color":{"field":"g","type":"nominal","scale":{"domain":["Normal","Tumor"],"range":["#3FB7DA","#EE4B33"]},"legend":null}}},
    {"mark":{"type":"bar","width":{"band":0.84},"fillOpacity":0,"stroke":"#000","strokeWidth":2},"encoding":{"y":{"field":"med","type":"quantitative","scale":{"domain":[0.985,7.25],"nice":false,"zero":false},"axis":null},"y2":{"field":"med"}}}
   ]},
  {"data":{"name":"br"},"transform":[{"filter":"datum.k==='vHNSC'"}],"mark":{"type":"line","color":"#222","strokeWidth":0.8},
   "encoding":{"x":{"field":"g","type":"nominal","scale":{"domain":["Normal","Tumor"],"paddingInner":0,"paddingOuter":0.1},"axis":null},"y":{"field":"y","type":"quantitative","scale":{"domain":[0.985,7.25],"nice":false,"zero":false},"axis":null},"order":{"field":"o"}}},
  {"data":{"name":"bs"},"transform":[{"filter":"datum.k==='vHNSC'"}],"mark":{"type":"text","dx":43.6,"dy":-1,"baseline":"alphabetic","fontSize":9,"color":"#222"},
   "encoding":{"x":{"datum":"Normal","type":"nominal","scale":{"domain":["Normal","Tumor"],"paddingInner":0,"paddingOuter":0.1},"axis":null},"y":{"field":"y","type":"quantitative","scale":{"domain":[0.985,7.25],"nice":false,"zero":false},"axis":null},"text":{"field":"s"}}}
 ]},
 {"width":192,"height":212,"title":{"text":"KIRP"},"resolve":{"scale":{"x":"independent"},"axis":{"y":"independent"}},"layer":[
  {"data":{"name":"vd"},"transform":[{"filter":"datum.c==='KIRP' && datum.g==='Normal'"}],"mark":{"type":"area","orient":"horizontal","fill":"#9FDBEC","stroke":"#222","strokeWidth":0.9},
   "encoding":{"y":{"field":"y","type":"quantitative","scale":{"domain":[-0.32,6.31],"nice":false,"zero":false},"axis":{"orient":"left","values":[0,1,2,3,4,5,6],"tickCount":20,"format":"d","labelOverlap":{"expr":"false"},"gridWidth":1,"title":["The expression of TOP1MT","Log₂ (TPM+1)"]}},
    "x":{"field":"d","type":"quantitative","stack":"center","impute":null,"scale":{"domain":[-0.15,2.05],"nice":false,"zero":false},"axis":null}}},
  {"data":{"name":"vd"},"transform":[{"filter":"datum.c==='KIRP' && datum.g==='Tumor'"}],"mark":{"type":"area","orient":"horizontal","fill":"#F6A599","stroke":"#222","strokeWidth":0.9},
   "encoding":{"y":{"field":"y","type":"quantitative","scale":{"domain":[-0.32,6.31],"nice":false,"zero":false},"axis":{"orient":"left","values":[0.5,1.5,2.5,3.5,4.5,5.5],"tickCount":20,"labels":false,"ticks":false,"domain":false,"grid":true,"gridWidth":0.5,"title":null}},
    "x":{"field":"d","type":"quantitative","stack":"center","impute":null,"scale":{"domain":[-1.175,1.025],"nice":false,"zero":false},"axis":null}}},
  {"data":{"name":"vs"},"transform":[{"filter":"datum.c==='KIRP'"}],
   "encoding":{"x":{"field":"g","type":"nominal","scale":{"domain":["Normal","Tumor"],"paddingInner":0,"paddingOuter":0.1},"axis":{"labelAngle":0,"bandPosition":0.5,"grid":true,"title":" ","titleFontSize":12,"titlePadding":0}}},
   "layer":[
    {"mark":{"type":"rule","strokeWidth":1,"color":"#222"},"encoding":{"y":{"field":"lo","type":"quantitative","scale":{"domain":[-0.32,6.31],"nice":false,"zero":false},"axis":null},"y2":{"field":"hi"}}},
    {"mark":{"type":"bar","width":{"band":0.84},"stroke":"#222","strokeWidth":0.9},"encoding":{"y":{"field":"q1","type":"quantitative","scale":{"domain":[-0.32,6.31],"nice":false,"zero":false},"axis":null},"y2":{"field":"q3"},"color":{"field":"g","type":"nominal","scale":{"domain":["Normal","Tumor"],"range":["#3FB7DA","#EE4B33"]},"legend":null}}},
    {"mark":{"type":"bar","width":{"band":0.84},"fillOpacity":0,"stroke":"#000","strokeWidth":2},"encoding":{"y":{"field":"med","type":"quantitative","scale":{"domain":[-0.32,6.31],"nice":false,"zero":false},"axis":null},"y2":{"field":"med"}}}
   ]},
  {"data":{"name":"br"},"transform":[{"filter":"datum.k==='vKIRP'"}],"mark":{"type":"line","color":"#222","strokeWidth":0.8},
   "encoding":{"x":{"field":"g","type":"nominal","scale":{"domain":["Normal","Tumor"],"paddingInner":0,"paddingOuter":0.1},"axis":null},"y":{"field":"y","type":"quantitative","scale":{"domain":[-0.32,6.31],"nice":false,"zero":false},"axis":null},"order":{"field":"o"}}},
  {"data":{"name":"bs"},"transform":[{"filter":"datum.k==='vKIRP'"}],"mark":{"type":"text","dx":43.6,"dy":-1,"baseline":"alphabetic","fontSize":9,"color":"#222"},
   "encoding":{"x":{"datum":"Normal","type":"nominal","scale":{"domain":["Normal","Tumor"],"paddingInner":0,"paddingOuter":0.1},"axis":null},"y":{"field":"y","type":"quantitative","scale":{"domain":[-0.32,6.31],"nice":false,"zero":false},"axis":null},"text":{"field":"s"}}}
 ]},
 {"width":192,"height":212,"title":{"text":"LIHC"},"resolve":{"scale":{"x":"independent"},"axis":{"y":"independent"}},"layer":[
  {"data":{"name":"vd"},"transform":[{"filter":"datum.c==='LIHC' && datum.g==='Normal'"}],"mark":{"type":"area","orient":"horizontal","fill":"#9FDBEC","stroke":"#222","strokeWidth":0.9},
   "encoding":{"y":{"field":"y","type":"quantitative","scale":{"domain":[1.98,7.35],"nice":false,"zero":false},"axis":{"orient":"left","values":[2,3,4,5,6,7],"tickCount":20,"format":"d","labelOverlap":{"expr":"false"},"gridWidth":1,"title":["The expression of TOP1MT","Log₂ (TPM+1)"]}},
    "x":{"field":"d","type":"quantitative","stack":"center","impute":null,"scale":{"domain":[-0.125,2.075],"nice":false,"zero":false},"axis":null}}},
  {"data":{"name":"vd"},"transform":[{"filter":"datum.c==='LIHC' && datum.g==='Tumor'"}],"mark":{"type":"area","orient":"horizontal","fill":"#F6A599","stroke":"#222","strokeWidth":0.9},
   "encoding":{"y":{"field":"y","type":"quantitative","scale":{"domain":[1.98,7.35],"nice":false,"zero":false},"axis":{"orient":"left","values":[2.5,3.5,4.5,5.5,6.5],"tickCount":20,"labels":false,"ticks":false,"domain":false,"grid":true,"gridWidth":0.5,"title":null}},
    "x":{"field":"d","type":"quantitative","stack":"center","impute":null,"scale":{"domain":[-1.2,1.0],"nice":false,"zero":false},"axis":null}}},
  {"data":{"name":"vs"},"transform":[{"filter":"datum.c==='LIHC'"}],
   "encoding":{"x":{"field":"g","type":"nominal","scale":{"domain":["Normal","Tumor"],"paddingInner":0,"paddingOuter":0.1},"axis":{"labelAngle":0,"bandPosition":0.5,"grid":true,"title":" ","titleFontSize":12,"titlePadding":0}}},
   "layer":[
    {"mark":{"type":"rule","strokeWidth":1,"color":"#222"},"encoding":{"y":{"field":"lo","type":"quantitative","scale":{"domain":[1.98,7.35],"nice":false,"zero":false},"axis":null},"y2":{"field":"hi"}}},
    {"mark":{"type":"bar","width":{"band":0.84},"stroke":"#222","strokeWidth":0.9},"encoding":{"y":{"field":"q1","type":"quantitative","scale":{"domain":[1.98,7.35],"nice":false,"zero":false},"axis":null},"y2":{"field":"q3"},"color":{"field":"g","type":"nominal","scale":{"domain":["Normal","Tumor"],"range":["#3FB7DA","#EE4B33"]},"legend":null}}},
    {"mark":{"type":"bar","width":{"band":0.84},"fillOpacity":0,"stroke":"#000","strokeWidth":2},"encoding":{"y":{"field":"med","type":"quantitative","scale":{"domain":[1.98,7.35],"nice":false,"zero":false},"axis":null},"y2":{"field":"med"}}}
   ]},
  {"data":{"name":"br"},"transform":[{"filter":"datum.k==='vLIHC'"}],"mark":{"type":"line","color":"#222","strokeWidth":0.8},
   "encoding":{"x":{"field":"g","type":"nominal","scale":{"domain":["Normal","Tumor"],"paddingInner":0,"paddingOuter":0.1},"axis":null},"y":{"field":"y","type":"quantitative","scale":{"domain":[1.98,7.35],"nice":false,"zero":false},"axis":null},"order":{"field":"o"}}},
  {"data":{"name":"bs"},"transform":[{"filter":"datum.k==='vLIHC'"}],"mark":{"type":"text","dx":43.6,"dy":-1,"baseline":"alphabetic","fontSize":9,"color":"#222"},
   "encoding":{"x":{"datum":"Normal","type":"nominal","scale":{"domain":["Normal","Tumor"],"paddingInner":0,"paddingOuter":0.1},"axis":null},"y":{"field":"y","type":"quantitative","scale":{"domain":[1.98,7.35],"nice":false,"zero":false},"axis":null},"text":{"field":"s"}}}
 ]},
 {"width":192,"height":212,"title":{"text":"PAAD"},"resolve":{"scale":{"x":"independent"},"axis":{"y":"independent"}},"layer":[
  {"data":{"name":"vd"},"transform":[{"filter":"datum.c==='PAAD' && datum.g==='Normal'"}],"mark":{"type":"area","orient":"horizontal","fill":"#9FDBEC","stroke":"#222","strokeWidth":0.9},
   "encoding":{"y":{"field":"y","type":"quantitative","scale":{"domain":[-0.35,6.85],"nice":false,"zero":false},"axis":{"orient":"left","values":[0,2,4,6],"tickCount":20,"format":"d","labelOverlap":{"expr":"false"},"gridWidth":1,"title":["The expression of TOP1MT","Log₂ (TPM+1)"]}},
    "x":{"field":"d","type":"quantitative","stack":"center","impute":null,"scale":{"domain":[-0.125,2.075],"nice":false,"zero":false},"axis":null}}},
  {"data":{"name":"vd"},"transform":[{"filter":"datum.c==='PAAD' && datum.g==='Tumor'"}],"mark":{"type":"area","orient":"horizontal","fill":"#F6A599","stroke":"#222","strokeWidth":0.9},
   "encoding":{"y":{"field":"y","type":"quantitative","scale":{"domain":[-0.35,6.85],"nice":false,"zero":false},"axis":{"orient":"left","values":[1,3,5],"tickCount":20,"labels":false,"ticks":false,"domain":false,"grid":true,"gridWidth":0.5,"title":null}},
    "x":{"field":"d","type":"quantitative","stack":"center","impute":null,"scale":{"domain":[-1.175,1.025],"nice":false,"zero":false},"axis":null}}},
  {"data":{"name":"vs"},"transform":[{"filter":"datum.c==='PAAD'"}],
   "encoding":{"x":{"field":"g","type":"nominal","scale":{"domain":["Normal","Tumor"],"paddingInner":0,"paddingOuter":0.1},"axis":{"labelAngle":0,"bandPosition":0.5,"grid":true,"title":" ","titleFontSize":12,"titlePadding":0}}},
   "layer":[
    {"mark":{"type":"rule","strokeWidth":1,"color":"#222"},"encoding":{"y":{"field":"lo","type":"quantitative","scale":{"domain":[-0.35,6.85],"nice":false,"zero":false},"axis":null},"y2":{"field":"hi"}}},
    {"mark":{"type":"bar","width":{"band":0.84},"stroke":"#222","strokeWidth":0.9},"encoding":{"y":{"field":"q1","type":"quantitative","scale":{"domain":[-0.35,6.85],"nice":false,"zero":false},"axis":null},"y2":{"field":"q3"},"color":{"field":"g","type":"nominal","scale":{"domain":["Normal","Tumor"],"range":["#3FB7DA","#EE4B33"]},"legend":null}}},
    {"mark":{"type":"bar","width":{"band":0.84},"fillOpacity":0,"stroke":"#000","strokeWidth":2},"encoding":{"y":{"field":"med","type":"quantitative","scale":{"domain":[-0.35,6.85],"nice":false,"zero":false},"axis":null},"y2":{"field":"med"}}}
   ]},
  {"data":{"name":"br"},"transform":[{"filter":"datum.k==='vPAAD'"}],"mark":{"type":"line","color":"#222","strokeWidth":0.8},
   "encoding":{"x":{"field":"g","type":"nominal","scale":{"domain":["Normal","Tumor"],"paddingInner":0,"paddingOuter":0.1},"axis":null},"y":{"field":"y","type":"quantitative","scale":{"domain":[-0.35,6.85],"nice":false,"zero":false},"axis":null},"order":{"field":"o"}}},
  {"data":{"name":"bs"},"transform":[{"filter":"datum.k==='vPAAD'"}],"mark":{"type":"text","dx":43.6,"dy":-1,"baseline":"alphabetic","fontSize":9,"color":"#222"},
   "encoding":{"x":{"datum":"Normal","type":"nominal","scale":{"domain":["Normal","Tumor"],"paddingInner":0,"paddingOuter":0.1},"axis":null},"y":{"field":"y","type":"quantitative","scale":{"domain":[-0.35,6.85],"nice":false,"zero":false},"axis":null},"text":{"field":"s"}}}
 ]}
 ],"bounds":"flush","spacing":66,
 "title":{"text":"B","anchor":"start","frame":"bounds","fontSize":26,"fontWeight":"bold","color":"#000","offset":-23,"dx":7},
 "resolve":{"scale":{"color":"independent"},"legend":{"color":"independent"}}},

{"hconcat":[
 {"width":192,"height":212,"title":{"text":"UCEC"},"resolve":{"scale":{"x":"independent"},"axis":{"y":"independent"}},"layer":[
  {"data":{"name":"vd"},"transform":[{"filter":"datum.c==='UCEC' && datum.g==='Normal'"}],"mark":{"type":"area","orient":"horizontal","fill":"#9FDBEC","stroke":"#222","strokeWidth":0.9},
   "encoding":{"y":{"field":"y","type":"quantitative","scale":{"domain":[1.47,7.06],"nice":false,"zero":false},"axis":{"orient":"left","values":[2,3,4,5,6,7],"tickCount":20,"format":"d","labelOverlap":{"expr":"false"},"gridWidth":1,"title":["The expression of TOP1MT","Log₂ (TPM+1)"]}},
    "x":{"field":"d","type":"quantitative","stack":"center","impute":null,"scale":{"domain":[-0.11,2.09],"nice":false,"zero":false},"axis":null}}},
  {"data":{"name":"vd"},"transform":[{"filter":"datum.c==='UCEC' && datum.g==='Tumor'"}],"mark":{"type":"area","orient":"horizontal","fill":"#F6A599","stroke":"#222","strokeWidth":0.9},
   "encoding":{"y":{"field":"y","type":"quantitative","scale":{"domain":[1.47,7.06],"nice":false,"zero":false},"axis":{"orient":"left","values":[1.5,2.5,3.5,4.5,5.5,6.5],"tickCount":20,"labels":false,"ticks":false,"domain":false,"grid":true,"gridWidth":0.5,"title":null}},
    "x":{"field":"d","type":"quantitative","stack":"center","impute":null,"scale":{"domain":[-1.175,1.025],"nice":false,"zero":false},"axis":null}}},
  {"data":{"name":"vs"},"transform":[{"filter":"datum.c==='UCEC'"}],
   "encoding":{"x":{"field":"g","type":"nominal","scale":{"domain":["Normal","Tumor"],"paddingInner":0,"paddingOuter":0.1},"axis":{"labelAngle":0,"bandPosition":0.5,"grid":true,"title":" ","titleFontSize":18,"titlePadding":0}}},
   "layer":[
    {"mark":{"type":"rule","strokeWidth":1,"color":"#222"},"encoding":{"y":{"field":"lo","type":"quantitative","scale":{"domain":[1.47,7.06],"nice":false,"zero":false},"axis":null},"y2":{"field":"hi"}}},
    {"mark":{"type":"bar","width":{"band":0.84},"stroke":"#222","strokeWidth":0.9},"encoding":{"y":{"field":"q1","type":"quantitative","scale":{"domain":[1.47,7.06],"nice":false,"zero":false},"axis":null},"y2":{"field":"q3"},"color":{"field":"g","type":"nominal","scale":{"domain":["Normal","Tumor"],"range":["#3FB7DA","#EE4B33"]},"legend":null}}},
    {"mark":{"type":"bar","width":{"band":0.84},"fillOpacity":0,"stroke":"#000","strokeWidth":2},"encoding":{"y":{"field":"med","type":"quantitative","scale":{"domain":[1.47,7.06],"nice":false,"zero":false},"axis":null},"y2":{"field":"med"}}}
   ]},
  {"data":{"name":"br"},"transform":[{"filter":"datum.k==='vUCEC'"}],"mark":{"type":"line","color":"#222","strokeWidth":0.8},
   "encoding":{"x":{"field":"g","type":"nominal","scale":{"domain":["Normal","Tumor"],"paddingInner":0,"paddingOuter":0.1},"axis":null},"y":{"field":"y","type":"quantitative","scale":{"domain":[1.47,7.06],"nice":false,"zero":false},"axis":null},"order":{"field":"o"}}},
  {"data":{"name":"bs"},"transform":[{"filter":"datum.k==='vUCEC'"}],"mark":{"type":"text","dx":43.6,"dy":-1,"baseline":"alphabetic","fontSize":9,"color":"#222"},
   "encoding":{"x":{"datum":"Normal","type":"nominal","scale":{"domain":["Normal","Tumor"],"paddingInner":0,"paddingOuter":0.1},"axis":null},"y":{"field":"y","type":"quantitative","scale":{"domain":[1.47,7.06],"nice":false,"zero":false},"axis":null},"text":{"field":"s"}}}
 ]},
 {"width":192,"height":212,"title":{"text":"BLCA"},"resolve":{"scale":{"x":"independent"},"axis":{"y":"independent"}},"layer":[
  {"data":{"name":"ps"},"transform":[{"filter":"datum.c==='BLCA'"}],
   "encoding":{"x":{"field":"g","type":"nominal","scale":{"domain":["Normal","Tumor"],"paddingInner":0,"paddingOuter":0.1},"axis":{"labelAngle":0,"bandPosition":0.5,"grid":true,"title":" ","titleFontSize":18,"titlePadding":0}}},
   "layer":[
    {"mark":{"type":"rule","strokeWidth":1,"color":"#222"},"encoding":{"y":{"field":"lo","type":"quantitative","scale":{"domain":[2.71,6.2],"nice":false,"zero":false},"axis":{"orient":"left","values":[3,3.5,4,4.5,5,5.5,6],"tickCount":20,"format":".1f","labelOverlap":{"expr":"false"},"gridWidth":1,"title":["The expression of TOP1MT","Log₂ (TPM+1)"]}},"y2":{"field":"hi"}}},
    {"mark":{"type":"bar","width":{"band":0.58},"fillOpacity":0.6,"stroke":"#333","strokeWidth":0.9},"encoding":{"y":{"field":"q1","type":"quantitative","scale":{"domain":[2.71,6.2],"nice":false,"zero":false}},"y2":{"field":"q3"},"color":{"field":"g","type":"nominal","scale":{"domain":["Normal","Tumor"],"range":["#3FB7DA","#EE4B33"]},"legend":null}}},
    {"mark":{"type":"bar","width":{"band":0.58},"fillOpacity":0,"stroke":"#111","strokeWidth":1.8},"encoding":{"y":{"field":"med","type":"quantitative","scale":{"domain":[2.71,6.2],"nice":false,"zero":false}},"y2":{"field":"med"}}}
   ]},
  {"data":{"name":"pp"},"transform":[{"filter":"datum.c==='BLCA'"},{"fold":["Normal","Tumor"],"as":["g","y"]}],
   "encoding":{"x":{"field":"g","type":"nominal","scale":{"domain":["Normal","Tumor"],"paddingInner":0,"paddingOuter":0.1},"axis":null},"y":{"field":"y","type":"quantitative","scale":{"domain":[2.71,6.2],"nice":false,"zero":false},"axis":{"orient":"left","values":[2.75,3.25,3.75,4.25,4.75,5.25,5.75],"tickCount":20,"labels":false,"ticks":false,"domain":false,"grid":true,"gridWidth":0.5,"title":null}}},
   "layer":[
    {"mark":{"type":"line","color":"#111","strokeWidth":0.8},"encoding":{"detail":{"field":"id","type":"nominal"}}},
    {"mark":{"type":"circle","size":30,"opacity":1},"encoding":{"color":{"field":"g","type":"nominal","scale":{"domain":["Normal","Tumor"],"range":["#3FB7DA","#EE4B33"]},"legend":null}}}
   ]},
  {"data":{"name":"br"},"transform":[{"filter":"datum.k==='pBLCA'"}],"mark":{"type":"line","color":"#222","strokeWidth":0.8},
   "encoding":{"x":{"field":"g","type":"nominal","scale":{"domain":["Normal","Tumor"],"paddingInner":0,"paddingOuter":0.1},"axis":null},"y":{"field":"y","type":"quantitative","scale":{"domain":[2.71,6.2],"nice":false,"zero":false},"axis":null},"order":{"field":"o"}}},
  {"data":{"name":"bs"},"transform":[{"filter":"datum.k==='pBLCA'"}],"mark":{"type":"text","dx":43.6,"dy":-1,"baseline":"alphabetic","fontSize":9,"color":"#222"},
   "encoding":{"x":{"datum":"Normal","type":"nominal","scale":{"domain":["Normal","Tumor"],"paddingInner":0,"paddingOuter":0.1},"axis":null},"y":{"field":"y","type":"quantitative","scale":{"domain":[2.71,6.2],"nice":false,"zero":false},"axis":null},"text":{"field":"s"}}}
 ]},
 {"width":192,"height":212,"title":{"text":"HNSC"},"resolve":{"scale":{"x":"independent"},"axis":{"y":"independent"}},"layer":[
  {"data":{"name":"ps"},"transform":[{"filter":"datum.c==='HNSC'"}],
   "encoding":{"x":{"field":"g","type":"nominal","scale":{"domain":["Normal","Tumor"],"paddingInner":0,"paddingOuter":0.1},"axis":{"labelAngle":0,"bandPosition":0.5,"grid":true,"title":" ","titleFontSize":18,"titlePadding":0}}},
   "layer":[
    {"mark":{"type":"rule","strokeWidth":1,"color":"#222"},"encoding":{"y":{"field":"lo","type":"quantitative","scale":{"domain":[1.29,6.66],"nice":false,"zero":false},"axis":{"orient":"left","values":[2,3,4,5,6],"tickCount":20,"format":"d","labelOverlap":{"expr":"false"},"gridWidth":1,"title":["The expression of TOP1MT","Log₂ (TPM+1)"]}},"y2":{"field":"hi"}}},
    {"mark":{"type":"bar","width":{"band":0.58},"fillOpacity":0.6,"stroke":"#333","strokeWidth":0.9},"encoding":{"y":{"field":"q1","type":"quantitative","scale":{"domain":[1.29,6.66],"nice":false,"zero":false}},"y2":{"field":"q3"},"color":{"field":"g","type":"nominal","scale":{"domain":["Normal","Tumor"],"range":["#3FB7DA","#EE4B33"]},"legend":null}}},
    {"mark":{"type":"bar","width":{"band":0.58},"fillOpacity":0,"stroke":"#111","strokeWidth":1.8},"encoding":{"y":{"field":"med","type":"quantitative","scale":{"domain":[1.29,6.66],"nice":false,"zero":false}},"y2":{"field":"med"}}}
   ]},
  {"data":{"name":"pp"},"transform":[{"filter":"datum.c==='HNSC'"},{"fold":["Normal","Tumor"],"as":["g","y"]}],
   "encoding":{"x":{"field":"g","type":"nominal","scale":{"domain":["Normal","Tumor"],"paddingInner":0,"paddingOuter":0.1},"axis":null},"y":{"field":"y","type":"quantitative","scale":{"domain":[1.29,6.66],"nice":false,"zero":false},"axis":{"orient":"left","values":[1.5,2.5,3.5,4.5,5.5,6.5],"tickCount":20,"labels":false,"ticks":false,"domain":false,"grid":true,"gridWidth":0.5,"title":null}}},
   "layer":[
    {"mark":{"type":"line","color":"#111","strokeWidth":0.8},"encoding":{"detail":{"field":"id","type":"nominal"}}},
    {"mark":{"type":"circle","size":30,"opacity":1},"encoding":{"color":{"field":"g","type":"nominal","scale":{"domain":["Normal","Tumor"],"range":["#3FB7DA","#EE4B33"]},"legend":null}}}
   ]},
  {"data":{"name":"br"},"transform":[{"filter":"datum.k==='pHNSC'"}],"mark":{"type":"line","color":"#222","strokeWidth":0.8},
   "encoding":{"x":{"field":"g","type":"nominal","scale":{"domain":["Normal","Tumor"],"paddingInner":0,"paddingOuter":0.1},"axis":null},"y":{"field":"y","type":"quantitative","scale":{"domain":[1.29,6.66],"nice":false,"zero":false},"axis":null},"order":{"field":"o"}}},
  {"data":{"name":"bs"},"transform":[{"filter":"datum.k==='pHNSC'"}],"mark":{"type":"text","dx":43.6,"dy":-1,"baseline":"alphabetic","fontSize":9,"color":"#222"},
   "encoding":{"x":{"datum":"Normal","type":"nominal","scale":{"domain":["Normal","Tumor"],"paddingInner":0,"paddingOuter":0.1},"axis":null},"y":{"field":"y","type":"quantitative","scale":{"domain":[1.29,6.66],"nice":false,"zero":false},"axis":null},"text":{"field":"s"}}}
 ]},
 {"width":192,"height":212,"title":{"text":"KIRP"},"resolve":{"scale":{"x":"independent"},"axis":{"y":"independent"}},"layer":[
  {"data":{"name":"ps"},"transform":[{"filter":"datum.c==='KIRP'"}],
   "encoding":{"x":{"field":"g","type":"nominal","scale":{"domain":["Normal","Tumor"],"paddingInner":0,"paddingOuter":0.1},"axis":{"labelAngle":0,"bandPosition":0.5,"grid":true,"title":" ","titleFontSize":18,"titlePadding":0}}},
   "layer":[
    {"mark":{"type":"rule","strokeWidth":1,"color":"#222"},"encoding":{"y":{"field":"lo","type":"quantitative","scale":{"domain":[2.24,5.13],"nice":false,"zero":false},"axis":{"orient":"left","values":[2.5,3,3.5,4,4.5,5],"tickCount":20,"format":".1f","labelOverlap":{"expr":"false"},"gridWidth":1,"title":["The expression of TOP1MT","Log₂ (TPM+1)"]}},"y2":{"field":"hi"}}},
    {"mark":{"type":"bar","width":{"band":0.58},"fillOpacity":0.6,"stroke":"#333","strokeWidth":0.9},"encoding":{"y":{"field":"q1","type":"quantitative","scale":{"domain":[2.24,5.13],"nice":false,"zero":false}},"y2":{"field":"q3"},"color":{"field":"g","type":"nominal","scale":{"domain":["Normal","Tumor"],"range":["#3FB7DA","#EE4B33"]},"legend":null}}},
    {"mark":{"type":"bar","width":{"band":0.58},"fillOpacity":0,"stroke":"#111","strokeWidth":1.8},"encoding":{"y":{"field":"med","type":"quantitative","scale":{"domain":[2.24,5.13],"nice":false,"zero":false}},"y2":{"field":"med"}}}
   ]},
  {"data":{"name":"pp"},"transform":[{"filter":"datum.c==='KIRP'"},{"fold":["Normal","Tumor"],"as":["g","y"]}],
   "encoding":{"x":{"field":"g","type":"nominal","scale":{"domain":["Normal","Tumor"],"paddingInner":0,"paddingOuter":0.1},"axis":null},"y":{"field":"y","type":"quantitative","scale":{"domain":[2.24,5.13],"nice":false,"zero":false},"axis":{"orient":"left","values":[2.25,2.75,3.25,3.75,4.25,4.75],"tickCount":20,"labels":false,"ticks":false,"domain":false,"grid":true,"gridWidth":0.5,"title":null}}},
   "layer":[
    {"mark":{"type":"line","color":"#111","strokeWidth":0.8},"encoding":{"detail":{"field":"id","type":"nominal"}}},
    {"mark":{"type":"circle","size":30,"opacity":1},"encoding":{"color":{"field":"g","type":"nominal","scale":{"domain":["Normal","Tumor"],"range":["#3FB7DA","#EE4B33"]},"legend":null}}}
   ]},
  {"data":{"name":"br"},"transform":[{"filter":"datum.k==='pKIRP'"}],"mark":{"type":"line","color":"#222","strokeWidth":0.8},
   "encoding":{"x":{"field":"g","type":"nominal","scale":{"domain":["Normal","Tumor"],"paddingInner":0,"paddingOuter":0.1},"axis":null},"y":{"field":"y","type":"quantitative","scale":{"domain":[2.24,5.13],"nice":false,"zero":false},"axis":null},"order":{"field":"o"}}},
  {"data":{"name":"bs"},"transform":[{"filter":"datum.k==='pKIRP'"}],"mark":{"type":"text","dx":43.6,"dy":-1,"baseline":"alphabetic","fontSize":9,"color":"#222"},
   "encoding":{"x":{"datum":"Normal","type":"nominal","scale":{"domain":["Normal","Tumor"],"paddingInner":0,"paddingOuter":0.1},"axis":null},"y":{"field":"y","type":"quantitative","scale":{"domain":[2.24,5.13],"nice":false,"zero":false},"axis":null},"text":{"field":"s"}}}
 ]},
 {"width":192,"height":212,"title":{"text":"LIHC"},"resolve":{"scale":{"x":"independent"},"axis":{"y":"independent"}},"layer":[
  {"data":{"name":"ps"},"transform":[{"filter":"datum.c==='LIHC'"}],
   "encoding":{"x":{"field":"g","type":"nominal","scale":{"domain":["Normal","Tumor"],"paddingInner":0,"paddingOuter":0.1},"axis":{"labelAngle":0,"bandPosition":0.5,"grid":true,"title":" ","titleFontSize":18,"titlePadding":0}}},
   "layer":[
    {"mark":{"type":"rule","strokeWidth":1,"color":"#222"},"encoding":{"y":{"field":"lo","type":"quantitative","scale":{"domain":[1.91,6.29],"nice":false,"zero":false},"axis":{"orient":"left","values":[2,3,4,5,6],"tickCount":20,"format":"d","labelOverlap":{"expr":"false"},"gridWidth":1,"title":["The expression of TOP1MT","Log₂ (TPM+1)"]}},"y2":{"field":"hi"}}},
    {"mark":{"type":"bar","width":{"band":0.58},"fillOpacity":0.6,"stroke":"#333","strokeWidth":0.9},"encoding":{"y":{"field":"q1","type":"quantitative","scale":{"domain":[1.91,6.29],"nice":false,"zero":false}},"y2":{"field":"q3"},"color":{"field":"g","type":"nominal","scale":{"domain":["Normal","Tumor"],"range":["#3FB7DA","#EE4B33"]},"legend":null}}},
    {"mark":{"type":"bar","width":{"band":0.58},"fillOpacity":0,"stroke":"#111","strokeWidth":1.8},"encoding":{"y":{"field":"med","type":"quantitative","scale":{"domain":[1.91,6.29],"nice":false,"zero":false}},"y2":{"field":"med"}}}
   ]},
  {"data":{"name":"pp"},"transform":[{"filter":"datum.c==='LIHC'"},{"fold":["Normal","Tumor"],"as":["g","y"]}],
   "encoding":{"x":{"field":"g","type":"nominal","scale":{"domain":["Normal","Tumor"],"paddingInner":0,"paddingOuter":0.1},"axis":null},"y":{"field":"y","type":"quantitative","scale":{"domain":[1.91,6.29],"nice":false,"zero":false},"axis":{"orient":"left","values":[2.5,3.5,4.5,5.5],"tickCount":20,"labels":false,"ticks":false,"domain":false,"grid":true,"gridWidth":0.5,"title":null}}},
   "layer":[
    {"mark":{"type":"line","color":"#111","strokeWidth":0.8},"encoding":{"detail":{"field":"id","type":"nominal"}}},
    {"mark":{"type":"circle","size":30,"opacity":1},"encoding":{"color":{"field":"g","type":"nominal","scale":{"domain":["Normal","Tumor"],"range":["#3FB7DA","#EE4B33"]},"legend":null}}}
   ]},
  {"data":{"name":"br"},"transform":[{"filter":"datum.k==='pLIHC'"}],"mark":{"type":"line","color":"#222","strokeWidth":0.8},
   "encoding":{"x":{"field":"g","type":"nominal","scale":{"domain":["Normal","Tumor"],"paddingInner":0,"paddingOuter":0.1},"axis":null},"y":{"field":"y","type":"quantitative","scale":{"domain":[1.91,6.29],"nice":false,"zero":false},"axis":null},"order":{"field":"o"}}},
  {"data":{"name":"bs"},"transform":[{"filter":"datum.k==='pLIHC'"}],"mark":{"type":"text","dx":43.6,"dy":-1,"baseline":"alphabetic","fontSize":9,"color":"#222"},
   "encoding":{"x":{"datum":"Normal","type":"nominal","scale":{"domain":["Normal","Tumor"],"paddingInner":0,"paddingOuter":0.1},"axis":null},"y":{"field":"y","type":"quantitative","scale":{"domain":[1.91,6.29],"nice":false,"zero":false},"axis":null},"text":{"field":"s"}}}
 ]}
 ],"bounds":"flush","spacing":66,
 "resolve":{"scale":{"color":"independent"},"legend":{"color":"independent"}}},

{"width":1220,"height":72,"view":{"stroke":null},
 "layer":[
  {"data":{"values":[{"n":0,"t":"FIGURE 1"}]},"mark":{"type":"text","align":"left","baseline":"middle","fontSize":17.5,"color":"#5a5a5a","font":"DejaVu Sans","dx":-18},
   "encoding":{"x":{"datum":0,"type":"quantitative","scale":{"domain":[0,1]},"axis":null},"y":{"field":"n","type":"ordinal","scale":{"type":"point","domain":[0,1,2,3],"padding":0},"axis":null},"text":{"field":"t"}}},
  {"data":{"values":[{"n":1,"t":"Expression pattern of TOP1MT in human generalized carcinoma. (A) Assessing mRNA expression of TOP1MT between tumor and normal tissue"},{"n":2,"t":"using data downloaded from TCGA and GTEx; (B) TOP1MT mRNA expression in patients with BLCA, HNSC, KIPP, PAAD, UCEC, and LIHC from TCGA."},{"n":3,"t":"Log₂ (TPM+1) is used for the logarithmic scale. ∗ p < 0.05, ∗∗ p < 0.01 and ∗∗ p < 0.001."}]},
   "mark":{"type":"text","align":"left","baseline":"middle","fontSize":16.5,"color":"#5f5f5f","font":"DejaVu Sans","dx":-18},
   "encoding":{"x":{"datum":0,"type":"quantitative","scale":{"domain":[0,1]},"axis":null},"y":{"field":"n","type":"ordinal","scale":{"type":"point","domain":[0,1,2,3],"padding":0},"axis":null},"text":{"field":"t"}}}
 ]}
]
}
